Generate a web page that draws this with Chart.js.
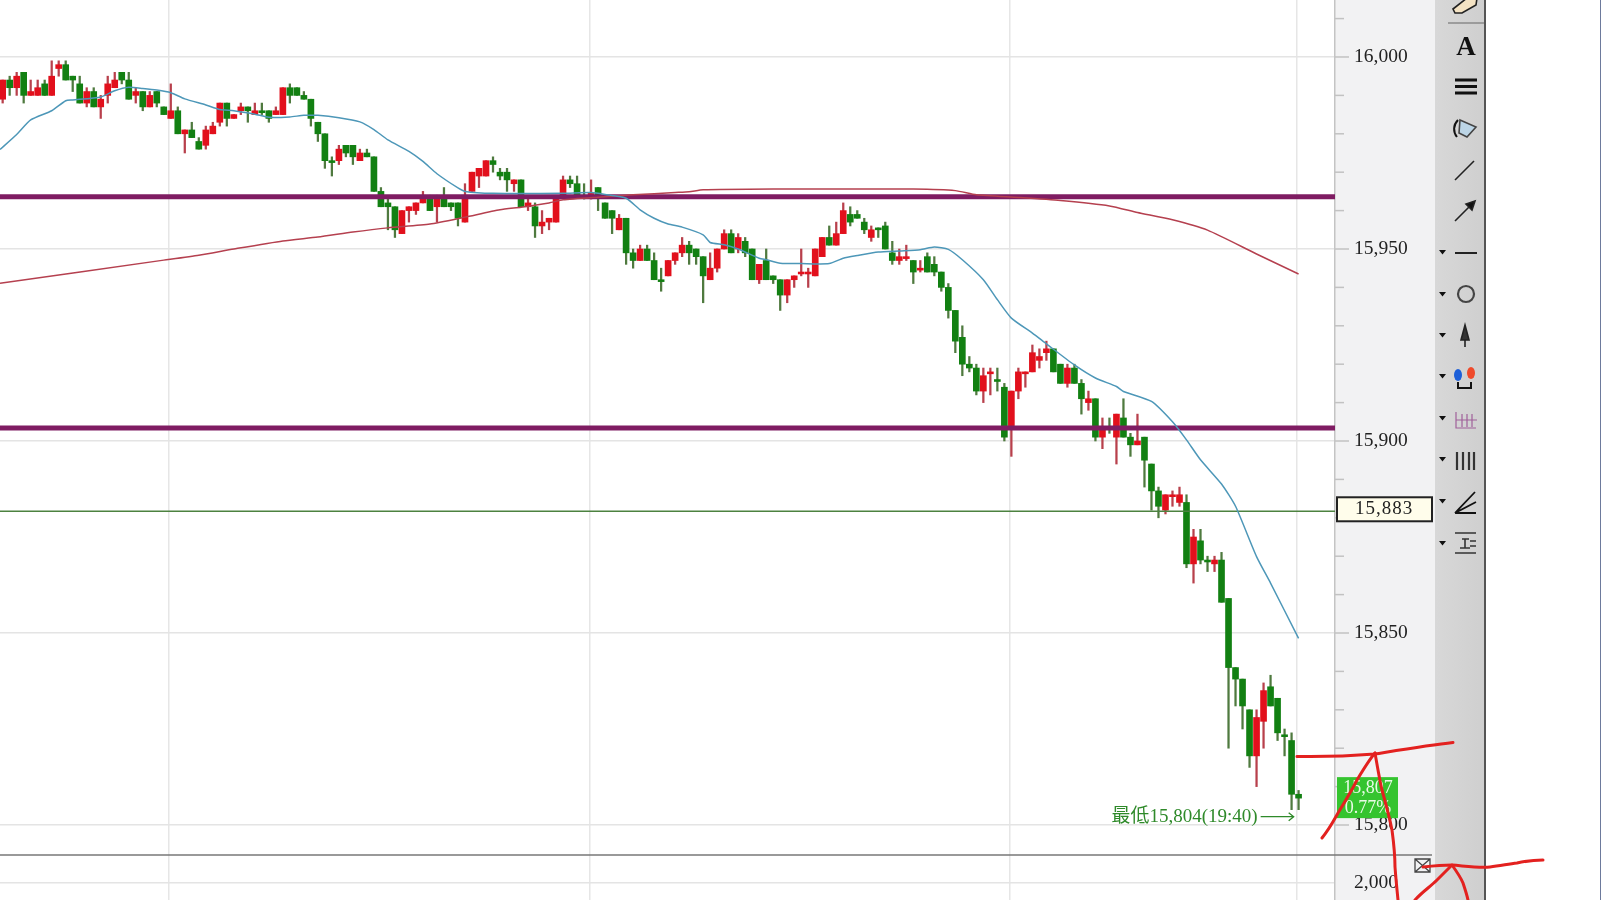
<!DOCTYPE html>
<html>
<head>
<meta charset="utf-8">
<script src="https://cdn.jsdelivr.net/npm/chart.js@4/dist/chart.umd.min.js"></script>
<style>
  html, body { margin: 0; background: #fff; }
  #page { position: relative; width: 1601px; height: 900px; overflow: hidden; }
  #page canvas, #page svg, .panel { position: absolute; display: block; }
  #axisPanel { left: 1335px; top: 0; width: 100px; height: 900px; background: #f2f2f3; }
  #toolPanel { left: 1435px; top: 0; width: 49px; height: 900px; background: linear-gradient(90deg, #d8d8d8, #cfcfcf); border-right: 2px solid #555; }
  #edge { left: 1600px; top: 0; width: 1px; height: 900px; background: #6d7a9c; }
</style>
</head>
<body>
<div id="page">
  <div class="panel" id="axisPanel"></div>
  <div class="panel" id="toolPanel"></div>
  <div class="panel" id="edge"></div>
  <canvas id="priceChart" width="1433" height="855" style="left:0;top:0"></canvas>
  <canvas id="volumeChart" width="1433" height="45" style="left:0;top:855px"></canvas>
  <svg width="1601" height="900" style="left:0;top:0" fill="none" stroke="#222" stroke-width="1.6">
    <line x1="0" y1="855" x2="1432" y2="855" stroke="#777" stroke-width="1.5"/>
    <!-- toolbar -->
    <line x1="1448" y1="23" x2="1484" y2="23" stroke="#8a8a8a"/>
    <path d="M1453 9 L1467 -2 L1477 -2 L1476 5 L1462 13 L1455 13 Z" fill="#f4e3c4"/>
    <text x="1466" y="55" font-family="Liberation Serif" font-size="27" font-weight="bold" text-anchor="middle" fill="#111" stroke="none">A</text>
    <path d="M1455 80 H1477 M1455 86.500 H1477 M1455 93 H1477" stroke="#111" stroke-width="2.800"/>
    <path d="M1460 120 L1476 127 L1467 137 L1459 133 Z" fill="#bcd5e6" stroke="#444"/>
    <path d="M1458 120 C1453 125 1453 132 1457 137" stroke="#111" stroke-width="2"/>
    <line x1="1455" y1="180" x2="1474" y2="161"/>
    <line x1="1455" y1="221" x2="1470" y2="206"/>
    <path d="M1475 201 L1466 204 L1472 210 Z" fill="#111"/>
    <line x1="1455" y1="253" x2="1477" y2="253" stroke-width="2"/>
    <circle cx="1466" cy="294" r="8" stroke="#444" stroke-width="2.200"/>
    <path d="M1465 325 L1469 340 L1461 340 Z M1465 340 V347" fill="#333"/>
    <ellipse cx="1458" cy="375" rx="4" ry="6" fill="#1d5fd8" stroke="none"/>
    <ellipse cx="1471" cy="373" rx="4" ry="6" fill="#ef4a2b" stroke="none"/>
    <path d="M1458 382 V388 H1471 V382" stroke="#111" stroke-width="2"/>
    <path d="M1456 412 V428 H1476 M1462 414 V427 M1467 414 V427 M1472 414 V427 M1456 420 H1477" stroke="#a0609a" stroke-width="1.200"/>
    <path d="M1457 452 V470 M1463 452 V470 M1469 452 V470 M1474 452 V470" stroke="#333" stroke-width="2.200"/>
    <path d="M1455 513 L1475 492 M1455 513 L1476 502 M1455 513 L1476 513" stroke="#111" stroke-width="1.800"/>
    <path d="M1455 533 H1476 M1455 553 H1476 M1462 539 H1469 M1465 539 V548 M1460 548 H1470 M1470 541 H1476 M1470 546 H1476" stroke="#333"/>
    <path d="M1439 250 H1446 L1442.500 254.500 Z M1439 292 H1446 L1442.500 296.500 Z M1439 333 H1446 L1442.500 337.500 Z M1439 374 H1446 L1442.500 378.500 Z M1439 416 H1446 L1442.500 420.500 Z M1439 457 H1446 L1442.500 461.500 Z M1439 499 H1446 L1442.500 503.500 Z M1439 541 H1446 L1442.500 545.500 Z" fill="#111" stroke="none"/>
    <path d="M1415 859 H1430 V872 H1415 Z M1415 859 L1430 872 M1430 859 L1415 872" stroke="#444" stroke-width="1.300"/>
    <!-- hand drawn strokes -->
    <g stroke="#e3211f" stroke-width="3" stroke-linecap="round" stroke-linejoin="round">
      <path d="M1297 756.500 C1325 757 1350 756 1375 754 C1400 750 1430 745 1453 742.500"/>
      <path d="M1322 838 C1330 828 1334 820 1338 813 C1346 800 1352 790 1357 780 C1363 770 1369 760 1375 753"/>
      <path d="M1375 753 C1378 770 1380 782 1382 790 C1387 808 1390 820 1392 830 C1394 845 1395 855 1395 867 C1396 880 1397 890 1398 900"/>
      <path d="M1423 867 C1432 866 1442 865 1452 865 C1465 866 1478 868 1490 867 C1500 866 1508 864 1517 863 C1526 861 1535 860 1543 860"/>
      <path d="M1415 900 C1422 892 1430 887 1437 880 C1442 875 1447 870 1452 865 C1457 872 1461 878 1463 883 C1465 889 1467 895 1468 900"/>
    </g>
  </svg>
</div>
<script>
const opens = [
  15989, 15994, 15992, 15996, 15990, 15990, 15993, 15990, 15997, 15998,
  15995, 15993, 15988, 15991, 15987, 15990, 15992, 15996, 15994, 15990,
  15991, 15987, 15991, 15987, 15984, 15986, 15980, 15981, 15978, 15977,
  15980, 15983, 15988, 15984, 15986, 15987, 15985, 15986, 15986, 15985,
  15985, 15992, 15992, 15990, 15989, 15983, 15980, 15973, 15973, 15977,
  15977, 15973, 15975, 15974, 15965, 15962, 15961, 15954, 15960, 15960,
  15962, 15963, 15961, 15963, 15962, 15962, 15957, 15965, 15969, 15969,
  15973, 15970, 15970, 15967, 15968, 15961, 15961, 15956, 15957, 15957,
  15964, 15968, 15967, 15964, 15964, 15966, 15962, 15960, 15955, 15958,
  15949, 15947, 15950, 15947, 15942, 15943, 15947, 15949, 15951, 15950,
  15948, 15942, 15945, 15950, 15954, 15950, 15952, 15950, 15942, 15947,
  15943, 15942, 15938, 15942, 15943.5, 15943.5, 15943, 15948, 15953, 15951,
  15954, 15959, 15959, 15957, 15953, 15955.5, 15956, 15949, 15947, 15947.5,
  15947, 15944.5, 15948, 15946, 15944, 15940, 15934, 15927, 15920, 15919,
  15913, 15917.5, 15916, 15914, 15904, 15913, 15917.5, 15918, 15921, 15923,
  15924, 15920, 15915, 15919, 15915, 15910, 15911, 15901, 15903.5, 15901,
  15906, 15901, 15899, 15901, 15894, 15887, 15882, 15885.5, 15884, 15884,
  15868, 15874, 15869, 15868, 15869, 15859, 15841, 15838, 15830, 15818,
  15827, 15836, 15833, 15823.5, 15822, 15808
]
const highs = [
  15994, 15995, 15996, 15996, 15994, 15994, 15994, 15999, 15999, 15999,
  15995, 15995, 15992, 15992, 15990, 15995, 15996, 15996, 15996, 15992,
  15991, 15991, 15991, 15987, 15993, 15987, 15981, 15983, 15979, 15982,
  15983, 15988, 15988, 15985, 15988, 15987, 15988, 15988, 15986, 15987,
  15992, 15993, 15992, 15991, 15989, 15983, 15980, 15974, 15977, 15977,
  15977, 15976, 15976, 15974, 15966, 15963, 15961, 15960, 15961, 15962,
  15965, 15964, 15964, 15966, 15962, 15962, 15967, 15970, 15971, 15973,
  15974, 15971, 15971, 15968, 15968, 15963, 15962, 15960, 15958, 15963,
  15969, 15969, 15969, 15967, 15968, 15966, 15962, 15960, 15959, 15958,
  15950, 15951, 15951, 15949, 15945, 15947, 15949, 15953, 15952, 15950,
  15948, 15949, 15950, 15955, 15955, 15954, 15953, 15950, 15946, 15950,
  15943, 15942, 15942, 15943, 15950, 15945, 15950, 15953, 15956, 15957,
  15962, 15961, 15960, 15958, 15956, 15955.5, 15957, 15952, 15950, 15951,
  15947, 15947, 15949, 15948, 15944, 15941, 15934, 15930, 15922, 15920,
  15919, 15919, 15919, 15915, 15913, 15919, 15918, 15925, 15924, 15926,
  15924, 15920, 15920, 15920, 15916, 15913, 15911, 15906, 15906, 15907,
  15911, 15902, 15907, 15901, 15894, 15888, 15886, 15887, 15888, 15886,
  15877, 15877, 15870, 15870, 15871, 15859, 15841, 15838, 15830, 15830,
  15837, 15839, 15833, 15825, 15824, 15809
]
const lows = [
  15988, 15990, 15990, 15988, 15990, 15990, 15990, 15990, 15995, 15994,
  15991, 15988, 15987, 15987, 15984, 15988, 15992, 15993, 15989, 15988,
  15986, 15987, 15987, 15985, 15984, 15980, 15975, 15979, 15976, 15976,
  15980, 15982, 15982, 15984, 15985, 15983, 15985, 15985, 15983, 15985,
  15985, 15988, 15990, 15989, 15982, 15978, 15971, 15969, 15972, 15974,
  15972, 15973, 15974, 15965, 15961, 15955, 15953, 15954, 15957, 15959,
  15962, 15960, 15957, 15961, 15960, 15956, 15957, 15965, 15966, 15969,
  15970, 15968, 15965, 15965, 15961, 15960, 15953, 15954, 15955, 15957,
  15964, 15966, 15964, 15963, 15963, 15960, 15958, 15954, 15955, 15946,
  15945, 15947, 15947, 15942, 15939, 15943, 15946, 15948, 15946, 15946,
  15936, 15942, 15944, 15950, 15949, 15949, 15948, 15942, 15941, 15942,
  15941, 15934, 15936, 15940, 15943, 15940, 15943, 15948, 15951, 15951,
  15954, 15956, 15958, 15954, 15952, 15953, 15950, 15946, 15946, 15947,
  15941, 15944, 15944, 15943, 15939, 15932, 15923, 15917, 15918, 15912,
  15910, 15912, 15913, 15900, 15896, 15911, 15914, 15918, 15919, 15921,
  15918, 15915, 15914, 15915, 15907, 15908, 15900, 15898, 15902, 15894,
  15901, 15896, 15899, 15888, 15882, 15880, 15881, 15883, 15883, 15867,
  15863, 15868, 15866, 15866, 15858, 15820, 15831, 15825, 15815, 15810,
  15820, 15831, 15822, 15818, 15804, 15804
]
const closes = [
  15994, 15992, 15995, 15990, 15991, 15992, 15990, 15995, 15998, 15994,
  15994, 15988, 15991, 15987, 15989, 15993, 15994, 15994, 15989, 15991,
  15987, 15990, 15988, 15985, 15986, 15980, 15981, 15979, 15976, 15981,
  15982, 15988, 15984, 15985, 15987, 15986, 15986, 15985.5, 15984, 15986,
  15992, 15990, 15990, 15989, 15984, 15980, 15973, 15972.5, 15976, 15975,
  15974, 15975, 15974, 15965, 15961, 15961, 15955, 15960, 15961, 15962,
  15964, 15960, 15963, 15961, 15961, 15958, 15964, 15970, 15971, 15973,
  15972, 15969, 15968, 15968, 15961, 15962, 15956, 15957, 15958, 15963,
  15968, 15967, 15964, 15963.5, 15964.5, 15964, 15958, 15958, 15958, 15949,
  15947, 15950, 15947, 15942, 15941.5, 15947, 15949, 15951, 15949, 15948,
  15943, 15945, 15950, 15954, 15949, 15953, 15949, 15942, 15946, 15942,
  15942, 15938, 15942, 15943, 15944, 15944, 15950, 15953, 15951, 15954,
  15960, 15957, 15958, 15955, 15955, 15955, 15950, 15947, 15948, 15948,
  15944, 15945, 15944, 15944, 15940, 15934, 15926, 15920, 15919, 15913,
  15917, 15918, 15915.5, 15901, 15913, 15918, 15918, 15923, 15922, 15924,
  15918, 15915, 15919, 15915, 15911, 15911, 15901, 15903, 15903, 15907,
  15901, 15899, 15900, 15895, 15887, 15883, 15886, 15886, 15886, 15868,
  15875, 15869, 15868.5, 15869, 15858, 15841, 15838, 15831, 15818, 15828,
  15835, 15831, 15824, 15823, 15808, 15807
]

// short average at the bars listed in blueBars
const blueBars = [-0.38, 2, 4, 7, 9, 10, 14, 16, 18, 20, 22, 24, 26, 29, 31, 33, 36, 38, 41, 43, 45, 48, 51, 53, 55, 58, 60, 62, 65, 66, 70, 80, 84, 86, 89, 91, 93, 95, 97, 100, 101, 103, 105, 108, 109, 111, 114, 118, 120, 122, 125, 128, 131, 133, 135, 137, 140, 142, 144, 147, 149, 153, 156, 159, 160, 164, 167, 169, 171, 174, 176, 179, 181, 185]
const blueValues = [15975.9, 15979.8, 15983.6, 15986, 15988.6, 15988.8, 15989.6, 15991.2, 15992.1, 15991.8, 15991.4, 15990.7, 15989.1, 15987.5, 15986.3, 15986, 15985.1, 15984.3, 15984.4, 15984.8, 15984.8, 15984.2, 15983.1, 15981.1, 15978.4, 15975.4, 15972.8, 15969.6, 15965.9, 15965, 15964.5, 15964.5, 15964.7, 15964.2, 15963.2, 15960.2, 15958, 15956.5, 15955.7, 15953.7, 15951.7, 15951.1, 15950, 15947.6, 15947.2, 15946.3, 15946.2, 15946.2, 15947.6, 15948.3, 15949.2, 15949.5, 15949.8, 15950.5, 15949.9, 15947.2, 15942, 15936.8, 15932, 15928.1, 15925.3, 15919.8, 15916.4, 15914.2, 15912.9, 15910.3, 15905, 15900.3, 15895.1, 15888.8, 15883, 15869.9, 15863, 15848.6]

// long average, read the same way
const redBars = [-0.38, 23, 28, 33, 40, 45, 50, 55, 61, 66, 71, 74, 78, 80, 85, 90, 96, 98, 100, 110, 120, 130, 136, 139, 145, 151, 158, 162, 167, 172, 179, 185]
const redValues = [15941.1, 15947.1, 15948.4, 15950, 15952.1, 15953.1, 15954.4, 15955.5, 15956.5, 15958.3, 15960.2, 15960.9, 15962, 15962.8, 15963.5, 15964.1, 15964.7, 15964.9, 15965.4, 15965.6, 15965.6, 15965.6, 15965.2, 15964.1, 15963.4, 15962.6, 15961.2, 15959.5, 15957.6, 15954.9, 15948.7, 15943.5]

const purpleLevels = [15963.6, 15903.4]
const greenLevel = 15881.7
const sessionStops = [23.75, 83.75, 143.75, 184.75]
const lowerTickValues = [2000]

const xMin = -0.38
const xMax = 190.2
const upColor = '#e2101c'
const downColor = '#128012'
const labelFont = "'Liberation Serif', serif"

const bars = opens.map((o, i) => i)
const isUp = i => closes[i] >= opens[i]
const levelLine = v => [{ x: xMin, y: v }, { x: xMax, y: v }]
const lineStyle = { type: 'line', pointRadius: 0, fill: false }

const xAxis = () => ({
  type: 'linear',
  min: xMin,
  max: xMax,
  offset: false,
  ticks: { display: false },
  border: { display: false },
  grid: { color: '#e6e6e6', lineWidth: 1.5, drawTicks: false, offset: false },
  afterBuildTicks: scale => { scale.ticks = sessionStops.map(value => ({ value })) },
  afterFit: scale => { scale.height = 0 }
})

const yAxisBase = () => ({
  position: 'right',
  border: { color: '#c4c4c4', width: 1.5 },
  ticks: { padding: 19, color: '#222', font: { family: labelFont, size: 19.5 }, autoSkip: false },
  afterFit: scale => {
    scale.width = 98
    scale.paddingTop = 0
    scale.paddingBottom = 0
  }
})

const priceOverlay = {
  id: 'priceOverlay',
  afterDatasetsDraw (chart) {
    const { ctx, scales: { x, y } } = chart
    ctx.save()

    // small ticks on the price axis
    ctx.strokeStyle = '#c2c2c2'
    ctx.lineWidth = 1.5
    y.ticks.forEach(t => {
      const py = y.getPixelForValue(t.value)
      ctx.beginPath()
      ctx.moveTo(1335, py)
      ctx.lineTo(t.value % 50 === 0 ? 1349 : 1344, py)
      ctx.stroke()
    })

    // last price box
    const tagY = y.getPixelForValue(15807)
    ctx.fillStyle = '#35c42f'
    ctx.fillRect(1337, tagY - 21, 61, 41)
    ctx.fillStyle = '#e9fbe6'
    ctx.font = "18px " + labelFont
    ctx.textAlign = 'center'
    ctx.textBaseline = 'middle'
    ctx.fillText('15,807', 1368, tagY - 10)
    ctx.fillText('0.77%', 1368, tagY + 10)

    // level box
    const boxY = y.getPixelForValue(15883) + 3
    ctx.fillStyle = '#fffdeb'
    ctx.strokeStyle = '#222'
    ctx.lineWidth = 2
    ctx.fillRect(1337, boxY - 12, 95, 24)
    ctx.strokeRect(1337, boxY - 12, 95, 24)
    ctx.fillStyle = '#222'
    ctx.letterSpacing = '1px'
    ctx.font = "19px " + labelFont
    ctx.fillText('15,883', 1384, boxY)
    ctx.letterSpacing = '0px'

    // session low note
    const lowY = y.getPixelForValue(15804) + 7
    const tipX = x.getPixelForValue(184.3)
    ctx.fillStyle = '#2f8a2a'
    ctx.strokeStyle = '#2f8a2a'
    ctx.lineWidth = 1.3
    ctx.textAlign = 'right'
    ctx.font = "19px " + labelFont + ", 'Noto Sans CJK TC'"
    ctx.fillText('最低15,804(19:40)', tipX - 36, lowY)
    ctx.beginPath()
    ctx.moveTo(tipX - 33, lowY)
    ctx.lineTo(tipX, lowY)
    ctx.moveTo(tipX - 5, lowY - 4)
    ctx.lineTo(tipX, lowY)
    ctx.lineTo(tipX - 5, lowY + 4)
    ctx.stroke()
    ctx.restore()
  }
}

new Chart(document.getElementById('priceChart'), {
  type: 'bar',
  data: {
    datasets: [
      { ...lineStyle, data: blueBars.map((b, i) => ({ x: b, y: blueValues[i] })), borderColor: '#4d97b8', borderWidth: 1.5, tension: 0.2, order: 0 },
      { ...lineStyle, data: redBars.map((b, i) => ({ x: b, y: redValues[i] })), borderColor: '#b5404f', borderWidth: 1.5, tension: 0.2, order: 1 },
      { ...lineStyle, data: levelLine(purpleLevels[0]), borderColor: '#7f1c62', borderWidth: 5, order: 2 },
      { ...lineStyle, data: levelLine(purpleLevels[1]), borderColor: '#7f1c62', borderWidth: 5, order: 2 },
      { ...lineStyle, data: levelLine(greenLevel), borderColor: '#4c8240', borderWidth: 1.5, order: 3 },
      {
        data: bars.map(i => ({ x: i, y: [opens[i], closes[i]] })),
        backgroundColor: bars.map(i => isUp(i) ? upColor : downColor),
        barThickness: 6,
        grouped: false,
        order: 4
      },
      {
        data: bars.map(i => ({ x: i, y: [lows[i], highs[i]] })),
        backgroundColor: bars.map(i => isUp(i) ? '#b8404c' : '#4f7a3f'),
        barThickness: 1.6,
        grouped: false,
        order: 5
      }
    ]
  },
  options: {
    responsive: false,
    animation: false,
    layout: { padding: 0, autoPadding: false },
    scales: {
      x: xAxis(),
      y: {
        ...yAxisBase(),
        min: 15792.19,
        max: 16014.84,
        ticks: {
          ...yAxisBase().ticks,
          stepSize: 10,
          includeBounds: false,
          callback: v => v % 50 === 0 ? v.toLocaleString('en-US') : ''
        },
        grid: {
          drawTicks: false,
          lineWidth: 1.5,
          color: c => c.tick && c.tick.value % 50 === 0 ? '#e4e4e4' : 'transparent'
        }
      }
    },
    plugins: { legend: { display: false }, tooltip: { enabled: false } }
  },
  plugins: [priceOverlay]
})

new Chart(document.getElementById('volumeChart'), {
  type: 'line',
  data: { datasets: [] },
  options: {
    responsive: false,
    animation: false,
    layout: { padding: 0, autoPadding: false },
    scales: {
      x: xAxis(),
      y: {
        ...yAxisBase(),
        min: 0,
        max: 5300,
        afterBuildTicks: scale => { scale.ticks = lowerTickValues.map(value => ({ value })) },
        ticks: { ...yAxisBase().ticks, callback: v => v.toLocaleString('en-US') },
        grid: { drawTicks: false, lineWidth: 1.5, color: '#e4e4e4' }
      }
    },
    plugins: { legend: { display: false }, tooltip: { enabled: false } }
  }
})
</script>
</body>
</html>
